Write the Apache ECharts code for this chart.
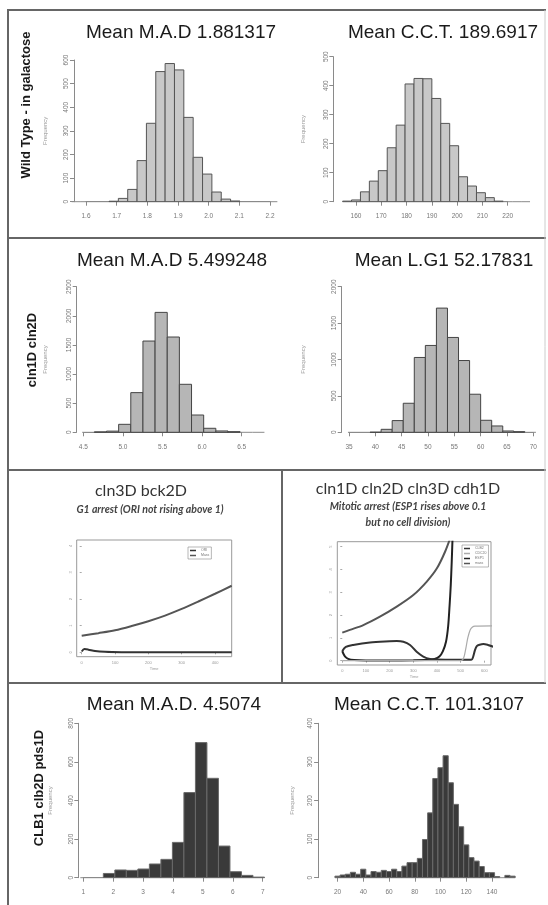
<!DOCTYPE html>
<html>
<head>
<meta charset="utf-8">
<script src="https://cdn.jsdelivr.net/npm/echarts@6/dist/echarts.min.js"></script>
<style>
  html, body { margin: 0; padding: 0; background: #fff; }
  #main { width: 548px; height: 905px; }
</style>
</head>
<body>
<div id="main"></div>
<script>
// histogram bins: left edge of first bin, bin width, counts
const wtMadStart = 1.553, wtMadWidth = 0.0305
const wtMadCounts = [0, 0, 0, 0, 2, 14, 52, 174, 332, 551, 585, 558, 357, 188, 117, 41, 11, 3, 0, 0, 0, 0]

const wtCctStart = 154.7, wtCctWidth = 3.53
const wtCctCounts = [2, 6, 34, 71, 107, 186, 264, 406, 425, 424, 356, 270, 193, 86, 54, 31, 14, 2, 0, 0, 0]

const clnMadStart = 4.486, clnMadWidth = 0.1534
const clnMadCounts = [0, 8, 20, 137, 681, 1567, 2059, 1636, 824, 297, 69, 23, 11, 0, 0]

const clnLg1Start = 34.8, clnLg1Width = 2.1
const clnLg1Counts = [0, 0, 2, 41, 161, 399, 1028, 1193, 1706, 1303, 986, 523, 165, 87, 18, 9, 0]

const clbMadStart = 0.9, clbMadWidth = 0.385
const clbMadCounts = [0, 0, 22, 40, 38, 45, 71, 95, 183, 441, 700, 515, 164, 31, 12, 3]

const clbCctStart = 18, clbCctWidth = 4
const clbCctCounts = [4, 7, 9, 14, 9, 22, 7, 16, 14, 19, 16, 22, 16, 30, 39, 39, 50, 99, 168,
  257, 285, 316, 246, 190, 132, 85, 52, 43, 29, 13, 13, 3, 0, 6, 4]

// time courses (time, level)
const g1Mass = [[0, 0.62], [50, 0.72], [100, 0.83], [150, 0.99], [200, 1.17], [250, 1.38],
  [300, 1.63], [350, 1.91], [400, 2.2], [450, 2.5]]
const g1Ori = [[0, 0.03], [8, 0.12], [20, 0.1], [40, 0.05], [70, 0.02], [120, 0.005], [200, 0], [450, 0]]

const mitMass = [[0, 1.23], [32, 1.35], [89, 1.56], [159, 1.93], [230, 2.37], [300, 2.88],
  [356, 3.46], [399, 4.04], [434, 4.78], [460, 5.5]]
const mitEsp1 = [[0, 0.42], [5, 0.3], [12, 0.18], [25, 0.08], [50, 0.03], [100, 0.01], [200, 0.01],
  [300, 0.02], [360, 0.04], [390, 0.08], [410, 0.18], [425, 0.42], [438, 0.83], [447, 1.5],
  [453, 2.4], [458, 3.3], [462, 4.3], [466, 5.5]]
const mitClb2 = [[0, 0.42], [15, 0.6], [46, 0.69], [117, 0.8], [200, 0.85], [230, 0.86], [258, 0.83],
  [286, 0.69], [314, 0.39], [342, 0.18], [370, 0.07], [400, 0.05], [470, 0.04], [545, 0.04],
  [552, 0.15], [560, 0.45], [568, 0.64], [580, 0.7], [596, 0.73], [615, 0.69], [638, 0.61]]
const mitCdc20 = [[0, 0], [200, 0], [500, 0], [508, 0.03], [515, 0.2], [522, 0.55], [530, 1.0],
  [540, 1.35], [550, 1.48], [560, 1.52], [638, 1.53]]

const g1Ticks = [0, 100, 200, 300, 400]
const g1Levels = [0, 1, 2, 3, 4]
const mitTicks = [0, 100, 200, 300, 400, 500, 600]
const mitLevels = [0, 1, 2, 3, 4, 5]

const axisGray = '#8a8a8a'
const labelGray = '#777'
const sans = 'Liberation Sans'

const chart = echarts.init(document.getElementById('main'))

function hist(idx, start, width, counts, fill, stroke) {
  const data = counts.map((c, i) => [start + i * width, start + (i + 1) * width, c])
  return {
    type: 'custom',
    xAxisIndex: idx,
    yAxisIndex: idx,
    clip: false,
    silent: true,
    data,
    encode: { x: [0, 1], y: 2 },
    renderItem(params, api) {
      const p0 = api.coord([api.value(0), 0])
      const p1 = api.coord([api.value(1), api.value(2)])
      if (api.value(2) === 0) {
        return {
          type: 'line',
          shape: { x1: p0[0], y1: p0[1], x2: p1[0], y2: p0[1] },
          style: { stroke: axisGray, lineWidth: 1 },
        }
      }
      return {
        type: 'rect',
        shape: { x: p0[0], y: p1[1], width: p1[0] - p0[0], height: p0[1] - p1[1] },
        style: { fill, stroke, lineWidth: 1 },
      }
    },
  }
}

function histX(idx, min, max, interval, offset, digits) {
  return {
    gridIndex: idx, type: 'value', min, max, interval, offset,
    axisLine: { show: true, lineStyle: { color: axisGray, width: 1 } },
    axisTick: { show: true, length: 4, lineStyle: { color: axisGray } },
    axisLabel: {
      fontSize: 6.5, color: labelGray, margin: 4, fontFamily: sans,
      formatter: (v) => v.toFixed(digits),
    },
    splitLine: { show: false },
  }
}

function histY(idx, max, interval, offset, nameGap) {
  return {
    gridIndex: idx, type: 'value', min: 0, max, interval, offset,
    name: 'Frequency', nameLocation: 'middle', nameGap,
    nameTextStyle: { fontSize: 6, color: '#999', fontFamily: sans },
    axisLine: { show: true, lineStyle: { color: axisGray, width: 1 } },
    axisTick: { show: true, length: 4, lineStyle: { color: axisGray } },
    axisLabel: {
      rotate: 90, fontSize: 6.5, color: labelGray, margin: 4, fontFamily: sans,
      formatter: (v) => String(v),
    },
    splitLine: { show: false },
  }
}

function lineX(idx, min, max, ticks) {
  return {
    gridIndex: idx, type: 'value', min, max,
    name: 'Time', nameLocation: 'middle', nameGap: 10,
    nameTextStyle: { fontSize: 4, color: '#999', fontFamily: sans },
    axisLine: { show: false },
    axisTick: { show: true, length: 2, customValues: ticks, lineStyle: { color: '#aaa' } },
    axisLabel: { fontSize: 4, color: '#999', margin: 4, customValues: ticks, fontFamily: sans },
    splitLine: { show: false },
  }
}

function lineY(idx, min, max, ticks) {
  return {
    gridIndex: idx, type: 'value', min, max,
    axisLine: { show: false },
    axisTick: { show: true, length: 2, customValues: ticks, lineStyle: { color: '#aaa' } },
    axisLabel: { rotate: 90, fontSize: 4, color: '#999', margin: 4, customValues: ticks, fontFamily: sans },
    splitLine: { show: false },
  }
}

function curve(idx, name, data, color, width) {
  return {
    type: 'line', name, xAxisIndex: idx, yAxisIndex: idx, data,
    showSymbol: false, smooth: 0.3, clip: true, silent: true,
    lineStyle: { color, width }, itemStyle: { color },
  }
}

function txt(x, y, text, font, fill, extra) {
  return Object.assign({
    type: 'text', x, y,
    style: { text, font, fill: fill || '#1a1a1a', textAlign: 'center', textVerticalAlign: 'middle' },
  }, extra || {})
}

function hline(x1, x2, y, color, w) {
  return { type: 'line', shape: { x1, y1: y, x2, y2: y }, style: { stroke: color || '#666', lineWidth: w || 2 } }
}

function vline(x, y1, y2, color, w) {
  return { type: 'line', shape: { x1: x, y1, x2: x, y2 }, style: { stroke: color || '#666', lineWidth: w || 2 } }
}

const noBounds = { containLabel: false, outerBoundsMode: 'none' }
const titleFont = '19px "Liberation Sans"'
const headFont = '16px Lato'
const noteFont = 'italic bold 10.5px Lato'
const rowFont = 'bold 13px "Liberation Sans"'

const option = {
  animation: false,
  backgroundColor: '#fff',
  grid: [
    Object.assign({ left: 86, top: 60, width: 184, height: 141.7 }, noBounds),
    Object.assign({ left: 356, top: 56.7, width: 151.7, height: 145 }, noBounds),
    Object.assign({ left: 83.3, top: 286.7, width: 158.4, height: 145.6 }, noBounds),
    Object.assign({ left: 349, top: 286.7, width: 184.3, height: 145.6 }, noBounds),
    Object.assign({ left: 76.7, top: 540, width: 155, height: 116.7, show: true, borderColor: '#999', borderWidth: 1 }, noBounds),
    Object.assign({ left: 337.3, top: 541.7, width: 153.7, height: 123.3, show: true, borderColor: '#999', borderWidth: 1 }, noBounds),
    Object.assign({ left: 83.3, top: 723.3, width: 179.4, height: 154.4 }, noBounds),
    Object.assign({ left: 337.5, top: 723.3, width: 154.5, height: 154.4 }, noBounds),
  ],
  xAxis: [
    histX(0, 1.6, 2.2, 0.1, 6.6, 1),
    histX(1, 160, 220, 10, 6.6, 0),
    histX(2, 4.5, 6.5, 0.5, 7, 1),
    histX(3, 35, 70, 5, 7, 0),
    lineX(4, -15, 450, g1Ticks),
    lineX(5, -21, 628, mitTicks),
    histX(6, 1, 7, 1, 6.6, 0),
    histX(7, 20, 140, 20, 6.6, 0),
  ],
  yAxis: [
    histY(0, 600, 100, 12, 26),
    histY(1, 500, 100, 22.7, 27),
    histY(2, 2500, 500, 6.6, 28),
    histY(3, 2000, 500, 7.3, 35),
    lineY(4, -0.165, 4.22, g1Levels),
    lineY(5, -0.19, 5.22, mitLevels),
    histY(6, 800, 200, 5, 25),
    histY(7, 400, 100, 19.4, 23),
  ],
  legend: [
    {
      data: ['ORI', 'Mass'], left: 188, top: 547, orient: 'vertical',
      icon: 'rect', itemWidth: 6, itemHeight: 1.5, itemGap: 1, padding: [1.5, 2],
      borderColor: '#888', borderWidth: 0.6, selectedMode: false,
      textStyle: { fontSize: 3.5, color: '#777', padding: 0 },
    },
    {
      data: ['CLB2', 'CDC20', 'ESP1', 'mass'], left: 462, top: 545, orient: 'vertical',
      icon: 'rect', itemWidth: 6, itemHeight: 1.5, itemGap: 1, padding: [1.5, 2],
      borderColor: '#888', borderWidth: 0.6, selectedMode: false,
      textStyle: { fontSize: 3.5, color: '#777', padding: 0 },
    },
  ],
  series: [
    hist(0, wtMadStart, wtMadWidth, wtMadCounts, '#c8c8c8', '#555'),
    hist(1, wtCctStart, wtCctWidth, wtCctCounts, '#c8c8c8', '#555'),
    hist(2, clnMadStart, clnMadWidth, clnMadCounts, '#b6b6b6', '#444'),
    hist(3, clnLg1Start, clnLg1Width, clnLg1Counts, '#b6b6b6', '#444'),
    curve(4, 'Mass', g1Mass, '#555', 2),
    curve(4, 'ORI', g1Ori, '#333', 2),
    curve(5, 'mass', mitMass, '#555', 2),
    curve(5, 'ESP1', mitEsp1, '#222', 2),
    curve(5, 'CLB2', mitClb2, '#333', 2),
    curve(5, 'CDC20', mitCdc20, '#aaa', 1.2),
    hist(6, clbMadStart, clbMadWidth, clbMadCounts, '#3a3a3a', '#6a6a6a'),
    hist(7, clbCctStart, clbCctWidth, clbCctCounts, '#3a3a3a', '#6a6a6a'),
  ],
  graphic: [
    // panel frame
    hline(7, 546, 10),
    hline(7, 546, 238),
    hline(7, 546, 470),
    hline(7, 546, 683),
    vline(8, 9, 905),
    vline(282, 470, 683),
    vline(545, 10, 683, '#ccc', 1),
    // histogram titles
    txt(181, 33, 'Mean M.A.D 1.881317', titleFont),
    txt(443, 33, 'Mean C.C.T. 189.6917', titleFont),
    txt(172, 261, 'Mean M.A.D 5.499248', titleFont),
    txt(444, 261, 'Mean L.G1 52.17831', titleFont),
    txt(174, 705, 'Mean M.A.D. 4.5074', titleFont),
    txt(429, 705, 'Mean C.C.T. 101.3107', titleFont),
    // time-course titles
    txt(141, 491, 'cln3D bck2D', headFont, '#333'),
    txt(150, 510, 'G1 arrest (ORI not rising above 1)', noteFont, '#444'),
    txt(408, 489, 'cln1D cln2D cln3D cdh1D', headFont, '#333'),
    txt(408, 507, 'Mitotic arrest (ESP1 rises above 0.1', noteFont, '#444'),
    txt(408, 523, 'but no cell division)', noteFont, '#444'),
    // row labels
    txt(26, 105, 'Wild Type - in galactose', rowFont, '#1a1a1a', { rotation: Math.PI / 2 }),
    txt(32, 350, 'cln1D cln2D', rowFont, '#1a1a1a', { rotation: Math.PI / 2 }),
    txt(39, 788, 'CLB1 clb2D pds1D', rowFont, '#1a1a1a', { rotation: Math.PI / 2 }),
  ],
}

chart.setOption(option)
</script>
</body>
</html>
